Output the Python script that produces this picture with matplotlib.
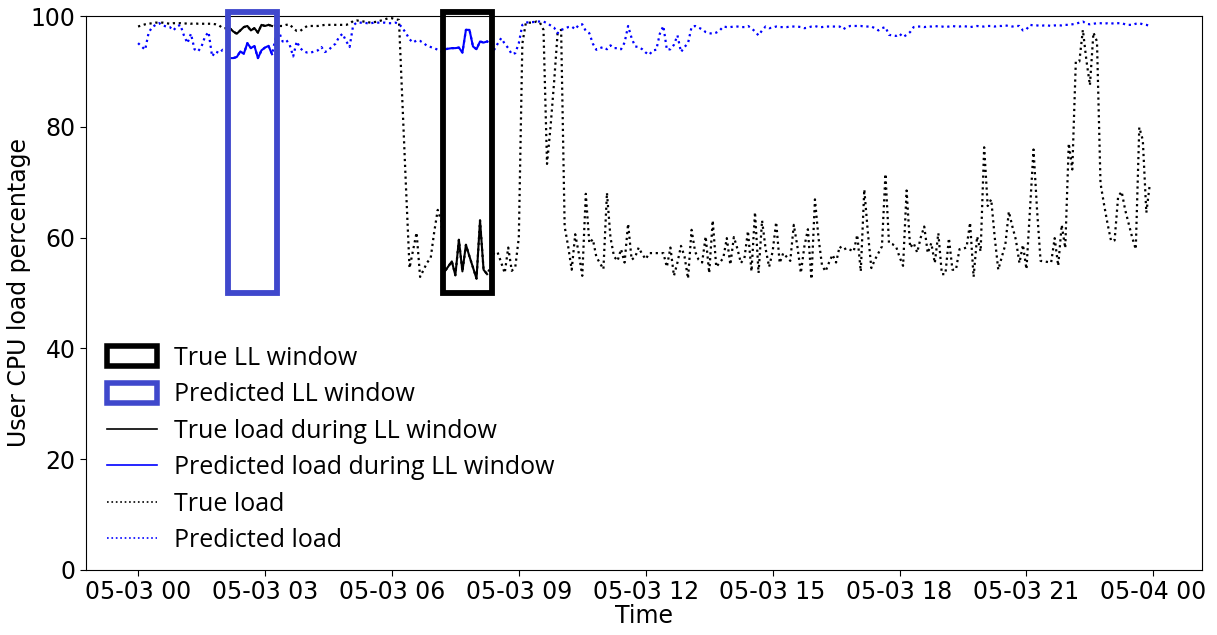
import matplotlib
matplotlib.use("Agg")
import matplotlib.pyplot as plt
import matplotlib.dates as mdates
from matplotlib.patches import Rectangle, Patch
from matplotlib.lines import Line2D
import pandas as pd
import numpy as np

# ---------------- data ----------------
start_time = "2019-05-03 00:00"
sample_minutes = 5

true_load = [
    98.1, 98.3, 98.5, 98.6, 98.7, 98.8, 98.8, 98.8, 98.7, 98.6, 98.7, 98.7,
    98.7, 98.6, 98.7, 98.6, 98.7, 98.6, 98.6, 98.6, 98.6, 98.6, 98.5, 98.3,
    97.8, 97.8, 97.8, 97.2, 96.8, 97.4, 98.0, 98.2, 97.4, 97.8, 97.0, 98.4,
    98.2, 98.4, 98.2, 98.3, 98.2, 98.2, 98.4, 98.5, 97.8, 97.3, 97.3, 97.8,
    98.2, 98.2, 98.2, 98.2, 98.3, 98.4, 98.4, 98.4, 98.4, 98.4, 98.4, 98.4,
    98.6, 99.1, 99.2, 99.1, 99.0, 98.9, 98.8, 98.9, 99.0, 99.2, 99.4, 99.6,
    99.6, 99.4, 99.3, 84.0, 69.0, 54.5, 57.7, 60.9, 52.9, 54.2, 55.5, 56.3,
    61.0, 65.0, 63.0, 53.9, 54.8, 55.7, 53.2, 59.6, 53.9, 58.7, 56.6, 54.6,
    52.6, 63.1, 54.2, 53.4, 54.7, 57.3, 57.3, 55.5, 53.6, 58.2, 54.0, 54.7,
    60.0, 95.0, 98.8, 98.8, 98.8, 99.0, 98.8, 97.5, 73.3, 80.0, 88.0, 96.9,
    97.5, 62.0, 58.4, 54.2, 60.6, 57.2, 53.1, 67.9, 59.0, 59.7, 56.5, 55.4,
    54.3, 68.1, 60.0, 56.6, 55.8, 57.9, 55.5, 62.5, 56.0, 56.5, 58.2, 57.0,
    56.1, 57.2, 57.2, 57.2, 57.2, 57.2, 54.7, 58.2, 53.1, 55.5, 58.5, 56.6,
    52.6, 61.4, 57.5, 56.0, 55.5, 60.2, 53.6, 63.1, 54.7, 55.5, 56.3, 59.9,
    55.1, 60.1, 58.0, 55.4, 56.3, 61.2, 53.9, 64.6, 53.6, 63.1, 58.0, 54.7,
    57.5, 62.8, 55.4, 57.2, 56.5, 55.8, 62.3, 58.5, 53.6, 58.4, 61.5, 52.5,
    66.9, 60.0, 55.0, 53.9, 55.5, 56.9, 55.5, 58.4, 57.8, 58.1, 57.8, 57.5,
    60.5, 53.9, 68.7, 61.0, 54.5, 56.0, 57.2, 58.4, 71.5, 59.0, 58.8, 58.4,
    56.5, 54.9, 68.5, 58.2, 59.0, 57.3, 60.0, 62.0, 57.2, 59.0, 55.4, 60.8,
    53.4, 53.4, 59.9, 54.2, 54.2, 57.9, 58.0, 58.2, 62.7, 52.9, 60.2, 57.5,
    76.3, 65.7, 66.9, 60.0, 54.2, 56.5, 58.7, 64.7, 62.0, 59.6, 55.4, 58.7,
    54.3, 65.0, 75.9, 65.0, 55.8, 55.7, 55.6, 55.5, 59.9, 54.9, 62.3, 58.1,
    77.0, 72.3, 91.8, 91.8, 97.5, 92.0, 87.5, 97.0, 95.4, 69.8, 66.0, 62.5,
    59.4, 59.5, 67.4, 68.3, 65.0, 62.5, 60.0, 57.9, 79.9, 77.6, 64.5, 69.7,
]

pred_load = [
    95.1, 94.5, 93.9, 97.0, 98.0, 98.4, 98.7, 98.3, 98.1, 98.0, 97.4, 98.1,
    98.4, 96.5, 95.1, 96.8, 94.0, 93.6, 94.5, 96.3, 97.1, 92.7, 93.6, 93.3,
    93.9, 93.6, 92.4, 92.4, 92.6, 93.6, 93.2, 95.1, 94.2, 94.6, 92.4, 93.8,
    94.3, 94.6, 93.1, 96.0, 97.1, 95.4, 95.7, 94.8, 92.7, 95.4, 94.2, 93.6,
    93.4, 93.4, 93.6, 93.8, 94.4, 93.5, 93.8, 94.5, 95.0, 96.2, 96.8, 95.5,
    94.4, 98.3, 98.8, 98.8, 98.8, 98.7, 98.7, 98.8, 98.8, 98.8, 98.8, 98.7,
    98.7, 98.8, 98.6, 97.8, 96.9, 95.8, 95.2, 95.6, 95.5, 95.1, 94.6, 94.4,
    94.2, 93.9, 93.6, 94.0, 94.1, 94.2, 94.2, 94.3, 93.4, 97.5, 97.5, 94.5,
    94.0, 95.4, 95.2, 95.4, 95.1, 93.9, 95.0, 96.0, 95.0, 94.2, 93.1, 93.3,
    95.1, 98.4, 98.8, 98.9, 98.9, 99.0, 99.0, 99.0, 98.7, 98.3, 97.9, 96.9,
    97.5, 97.7, 98.0, 98.1, 97.6, 98.4, 98.5, 97.3, 96.9, 95.0, 93.9, 94.2,
    94.4, 94.0, 94.7, 94.2, 94.2, 94.0, 95.2, 98.2, 96.0, 94.5, 94.4, 94.0,
    93.4, 93.0, 93.8, 93.9, 96.8, 98.2, 93.9, 94.0, 94.8, 96.5, 93.5, 94.4,
    95.1, 98.0, 98.2, 97.9, 97.6, 97.1, 96.9, 96.8, 97.0, 97.4, 98.1, 98.0,
    98.0, 98.1, 98.1, 98.0, 98.0, 98.2, 97.8, 97.2, 96.5, 97.4, 98.1, 97.8,
    97.9, 98.1, 98.0, 98.0, 98.0, 98.1, 98.1, 98.1, 98.0, 97.8, 97.9, 98.1,
    98.2, 98.0, 98.0, 98.1, 98.1, 98.1, 98.1, 98.1, 97.6, 98.0, 98.2, 98.2,
    98.2, 98.2, 98.1, 98.1, 98.1, 97.8, 97.4, 97.8, 98.0, 96.6, 96.5, 96.4,
    96.8, 96.2, 96.6, 97.1, 98.0, 98.1, 98.1, 98.0, 98.1, 98.1, 98.2, 98.1,
    98.1, 98.0, 98.1, 98.2, 98.1, 98.1, 98.2, 98.1, 98.0, 98.1, 98.2, 98.1,
    98.1, 98.2, 98.2, 98.1, 98.2, 98.2, 98.3, 98.2, 98.1, 98.2, 98.2, 97.4,
    97.6, 98.4, 98.3, 98.3, 98.2, 98.3, 98.3, 98.2, 98.3, 98.3, 98.3, 98.4,
    98.4, 98.5, 98.6, 98.8, 99.0, 98.6, 98.5, 98.6, 98.7, 98.7, 98.6, 98.7,
    98.7, 98.6, 98.7, 98.7, 98.5, 98.4, 98.4, 98.6, 98.7, 98.5, 98.4, 98.2,
]

# low-load windows (sample indices, inclusive)
true_ll_window = (87, 99)
pred_ll_window = (26, 38)
window_y_range = (50, 100)

legend_labels = ["True LL window", "Predicted LL window",
                 "True load during LL window", "Predicted load during LL window",
                 "True load", "Predicted load"]

# ---------------- plot ----------------
times = pd.date_range(start_time, periods=len(true_load), freq=f"{sample_minutes}min")
true_s = pd.Series(true_load, index=times)
pred_s = pd.Series(pred_load, index=times)

rect_blue = "#3f48cc"
fig = plt.figure(figsize=(12.17, 6.35), dpi=100)
ax = fig.add_axes([0.0707, 0.1024, 0.9170, 0.8724])

ax.plot(times, true_s.values, color="black", linestyle=":", linewidth=1.6)
ax.plot(times, pred_s.values, color="blue", linestyle=":", linewidth=1.6)

def draw_window(win, color):
    a, b = win
    t0 = mdates.date2num(times[a]) - 3 / 1440
    t1 = mdates.date2num(times[b]) + 7.5 / 1440
    y0, y1 = window_y_range
    r = Rectangle((t0, y0), t1 - t0, (y1 - y0) + 0.8, fill=False,
                  edgecolor=color, linewidth=4.2, clip_on=False, zorder=4)
    ax.add_patch(r)

for win in (true_ll_window, pred_ll_window):
    a, b = win
    ax.plot(times[a:b + 1], true_s.values[a:b + 1], color="black", linewidth=1.5, zorder=3)
    ax.plot(times[a:b + 1], pred_s.values[a:b + 1], color="blue", linewidth=1.5, zorder=3)

draw_window(true_ll_window, "black")
draw_window(pred_ll_window, rect_blue)

ax.set_ylim(0, 100)
ax.xaxis.set_major_locator(mdates.HourLocator(byhour=range(0, 24, 3)))
ax.xaxis.set_major_formatter(mdates.DateFormatter("%m-%d %H"))
ax.set_xlim(mdates.date2num(times[0]) - 1.23 / 24, mdates.date2num(times[0]) + 25.15 / 24)
ax.tick_params(axis="both", labelsize=17, length=4)
ax.set_xlabel("Time", fontsize=17, labelpad=0)
ax.set_ylabel("User CPU load percentage", fontsize=17, labelpad=0)

handles = [
    Patch(facecolor="none", edgecolor="black", linewidth=4),
    Patch(facecolor="none", edgecolor=rect_blue, linewidth=4),
    Line2D([], [], color="black", linewidth=1.2),
    Line2D([], [], color="blue", linewidth=1.2),
    Line2D([], [], color="black", linestyle=":", linewidth=1.2),
    Line2D([], [], color="blue", linestyle=":", linewidth=1.2),
]
leg = ax.legend(handles, legend_labels, loc="lower left", bbox_to_anchor=(0.01, 0.012),
                frameon=False, prop={"family": "Open Sans", "size": 18},
                handlelength=2.0, handleheight=0.85, handletextpad=0.68,
                labelspacing=0.46, borderaxespad=0)

fig.savefig("out.png", dpi=100)
